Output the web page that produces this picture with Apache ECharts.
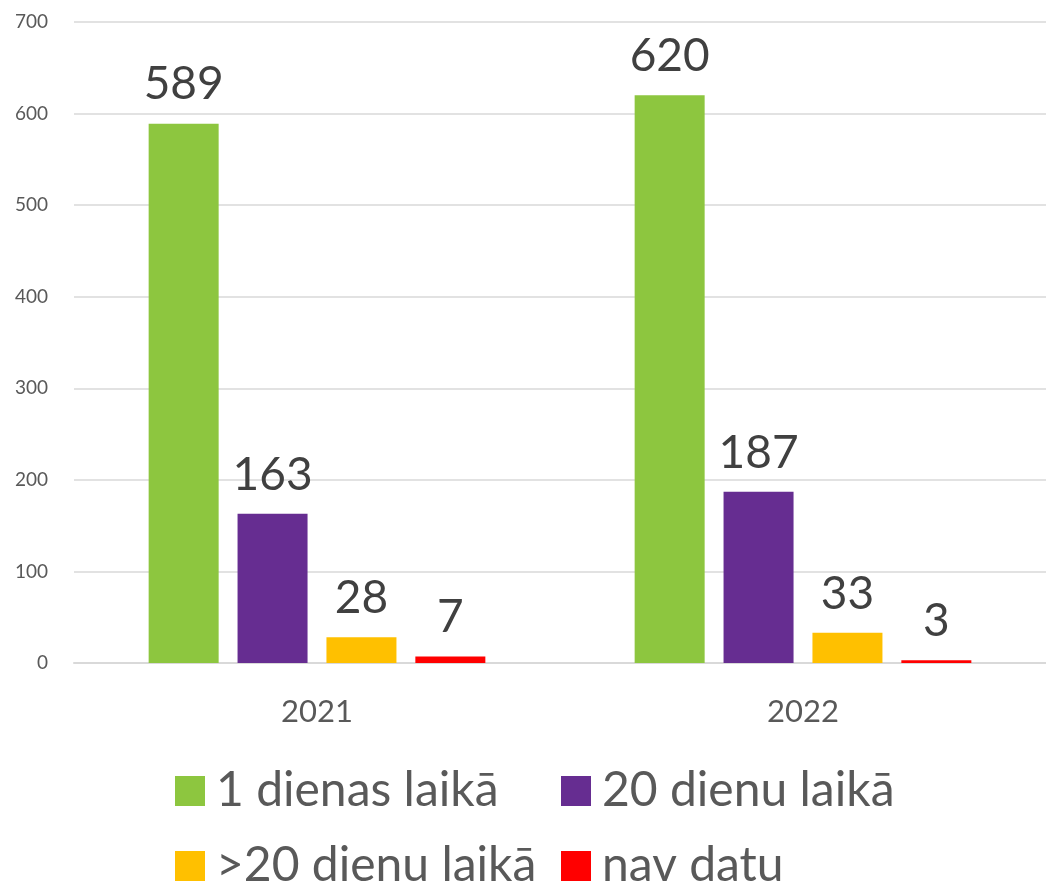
<!DOCTYPE html>
<html>
<head>
<meta charset="utf-8">
<script src="https://cdn.jsdelivr.net/npm/echarts@6/dist/echarts.min.js"></script>
<style>
  html, body { margin: 0; padding: 0; background: #fff; }
  #main { width: 1046px; height: 890px; }
</style>
</head>
<body>
<div id="main"></div>
<script>
// dati
var years = ["2021", "2022"];
var seriesNames = ["1 dienas laikā", "20 dienu laikā", ">20 dienu laikā", "nav datu"];
var oneDay = [589, 620];
var twentyDays = [163, 187];
var moreThan20 = [28, 33];
var noData = [7, 3];
var colors = ["#8DC63F", "#662D91", "#FFC000", "#FF0000"];

var font = "Lato, 'Open Sans', sans-serif";
var valueSets = [oneDay, twentyDays, moreThan20, noData];

var myChart = echarts.init(document.getElementById("main"));

var series = valueSets.map(function (vals, i) {
  return {
    name: seriesNames[i],
    type: "bar",
    barWidth: 70,
    barGap: "27%",
    itemStyle: { color: colors[i] },
    label: {
      show: true,
      position: "top",
      distance: 16,
      fontFamily: font,
      fontSize: 46,
      color: "#404040"
    },
    data: vals
  };
});

// katrs leģendas elements atsevišķi, lai kolonnas būtu izlīdzinātas
var legendPos = [[170, 762], [556, 762], [170, 837], [556, 837]];
var legends = seriesNames.map(function (name, i) {
  return {
    left: legendPos[i][0],
    top: legendPos[i][1],
    icon: "rect",
    itemWidth: 30,
    itemHeight: 30,
    data: [name],
    textStyle: {
      fontFamily: font,
      fontSize: 48,
      color: "#595959",
      padding: [0, 0, 0, 6]
    }
  };
});

myChart.setOption({
  animation: false,
  color: colors,
  grid: { left: 74, width: 983, top: 22, bottom: 227, containLabel: false },
  legend: legends,
  xAxis: {
    type: "category",
    data: years,
    axisTick: { show: false },
    axisLine: { lineStyle: { color: "#d9d9d9", width: 2 } },
    axisLabel: { fontFamily: font, fontSize: 31, color: "#595959", margin: 33 }
  },
  yAxis: {
    type: "value",
    min: 0,
    max: 700,
    interval: 100,
    axisLine: { show: false },
    axisTick: { show: false },
    axisLabel: { fontFamily: font, fontSize: 19, color: "#595959", margin: 26 },
    splitLine: { lineStyle: { color: "#d9d9d9", width: 1.5 } }
  },
  series: series
});
</script>
</body>
</html>
